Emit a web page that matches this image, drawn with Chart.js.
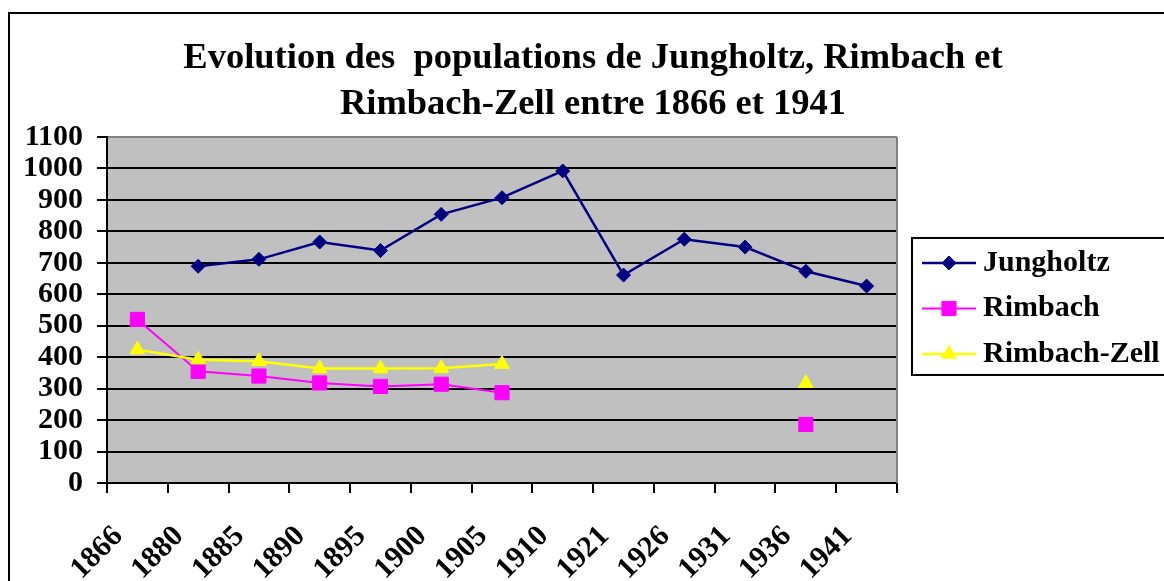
<!DOCTYPE html>
<html lang="fr">
<head>
    <meta charset="UTF-8">
    <title>Evolution des populations de Jungholtz, Rimbach et Rimbach-Zell</title>
    <script src="https://cdn.jsdelivr.net/npm/chart.js"></script>
    <style>
        html, body { margin: 0; padding: 0; overflow: hidden; background: #fff; }
        .chart-box { position: absolute; left: 0; top: 0; }
    </style>
</head>
<body>

    <div class="chart-box">
        <canvas id="popChart" width="1186" height="581"></canvas>
    </div>

    <script>
        const years = ['1866', '1880', '1885', '1890', '1895', '1900', '1905', '1910', '1921', '1926', '1931', '1936', '1941'];
        const jungholtz = [null, 689, 711, 766, 739, 854, 907, 992, 661, 775, 750, 673, 626];
        const rimbach = [520, 355, 340, 318, 307, 314, 287, null, null, null, null, 186, null];
        const rimbachZell = [424, 392, 387, 364, 364, 365, 378, null, null, null, null, 317, null];

        const serif = "'Liberation Serif', 'Times New Roman', serif";

        // white page with the thin frame around the whole chart
        const frame = {
            id: 'frame',
            beforeDraw(chart) {
                const ctx = chart.ctx;
                ctx.save();
                ctx.fillStyle = '#fff';
                ctx.fillRect(0, 0, chart.width, chart.height);
                ctx.lineWidth = 2;
                ctx.strokeStyle = '#000';
                ctx.strokeRect(9, 13, chart.width + 50, chart.height + 50);
                // grey plot background
                const a = chart.chartArea;
                ctx.fillStyle = '#C0C0C0';
                ctx.fillRect(a.left, a.top, a.right - a.left, a.bottom - a.top);
                ctx.restore();
            },
            afterDraw(chart) {
                const ctx = chart.ctx, a = chart.chartArea;
                ctx.save();
                ctx.strokeStyle = '#808080';
                ctx.lineWidth = 2;
                ctx.beginPath();
                ctx.moveTo(a.right, a.top);
                ctx.lineTo(a.right, a.bottom);
                ctx.stroke();
                ctx.restore();
            }
        };

        // boxed legend on the right of the plot
        const boxLegend = {
            id: 'boxLegend',
            afterDraw(chart) {
                const ctx = chart.ctx, a = chart.chartArea;
                const left = a.right + 15;
                const top = a.top + 101;
                ctx.save();
                ctx.lineWidth = 2;
                ctx.strokeStyle = '#000';
                ctx.strokeRect(left, top, 400, 137);
                ctx.font = 'bold 30px ' + serif;
                ctx.textBaseline = 'middle';
                chart.data.datasets.forEach((ds, i) => {
                    const y = top + 25 + i * 45.5;
                    ctx.strokeStyle = ds.borderColor;
                    ctx.lineWidth = ds.borderWidth;
                    ctx.beginPath();
                    ctx.moveTo(left + 10, y);
                    ctx.lineTo(left + 64, y);
                    ctx.stroke();
                    ctx.fillStyle = ds.backgroundColor;
                    ctx.lineWidth = 1;
                    Chart.helpers.drawPoint(ctx, { pointStyle: ds.pointStyle, radius: ds.pointRadius, borderWidth: 1, rotation: 0 }, left + 37, y);
                    ctx.fillStyle = '#000';
                    ctx.fillText(ds.label, left + 71, y);
                });
                ctx.restore();
            }
        };

        const ctx = document.getElementById('popChart').getContext('2d');

        new Chart(ctx, {
            type: 'line',
            data: {
                labels: years,
                datasets: [
                    { label: 'Jungholtz', data: jungholtz, borderColor: '#000080', backgroundColor: '#000080', borderWidth: 2.5, pointStyle: 'rectRot', pointRadius: 7, pointBorderWidth: 1, order: 3 },
                    { label: 'Rimbach', data: rimbach, borderColor: '#FF00FF', backgroundColor: '#FF00FF', borderWidth: 2, pointStyle: 'rect', pointRadius: 10, pointBorderWidth: 1, order: 2 },
                    { label: 'Rimbach-Zell', data: rimbachZell, borderColor: '#FFFF00', backgroundColor: '#FFFF00', borderWidth: 2.5, pointStyle: 'triangle', pointRadius: 8.5, pointBorderWidth: 1, order: 1 }
                ]
            },
            options: {
                responsive: false,
                animation: false,
                spanGaps: false,
                layout: { padding: 0 },
                elements: { line: { tension: 0 } },
                plugins: {
                    legend: { display: false },
                    tooltip: { enabled: false },
                    title: {
                        display: true,
                        text: ['Evolution des  populations de Jungholtz, Rimbach et', 'Rimbach-Zell entre 1866 et 1941'],
                        color: '#000',
                        font: { family: serif, size: 36.5, weight: 'bold', lineHeight: 1.26 },
                        padding: { top: 35.5, bottom: 9.5 }
                    }
                },
                scales: {
                    x: {
                        offset: true,
                        grid: { offset: true, drawOnChartArea: false, color: '#000', lineWidth: 2, tickLength: 10 },
                        border: { display: true, color: '#000', width: 2 },
                        ticks: {
                            color: '#000',
                            font: { family: serif, size: 30, weight: 'bold' },
                            minRotation: 45,
                            maxRotation: 45,
                            autoSkip: false,
                            padding: 26,
                            labelOffset: -19
                        },
                        afterFit(scale) { scale.height = 98; }
                    },
                    y: {
                        min: 0,
                        max: 1100,
                        grid: {
                            color: c => (c.tick && c.tick.value === 1100 ? '#808080' : '#000'),
                            tickColor: '#000',
                            lineWidth: 2,
                            tickLength: 10
                        },
                        border: { display: true, color: '#000', width: 2 },
                        ticks: {
                            stepSize: 100,
                            autoSkip: false,
                            color: '#000',
                            font: { family: serif, size: 30, weight: 'bold' },
                            padding: 14,
                            callback: v => String(v)
                        },
                        afterFit(scale) { scale.width = 107; }
                    },
                    // empty right-hand axis that reserves the room of the legend
                    side: {
                        position: 'right',
                        display: true,
                        min: 0,
                        max: 1100,
                        grid: { display: false },
                        border: { display: false },
                        ticks: { display: false },
                        afterFit(scale) { scale.width = 289; }
                    }
                }
            },
            plugins: [frame, boxLegend]
        });
    </script>
</body>
</html>
